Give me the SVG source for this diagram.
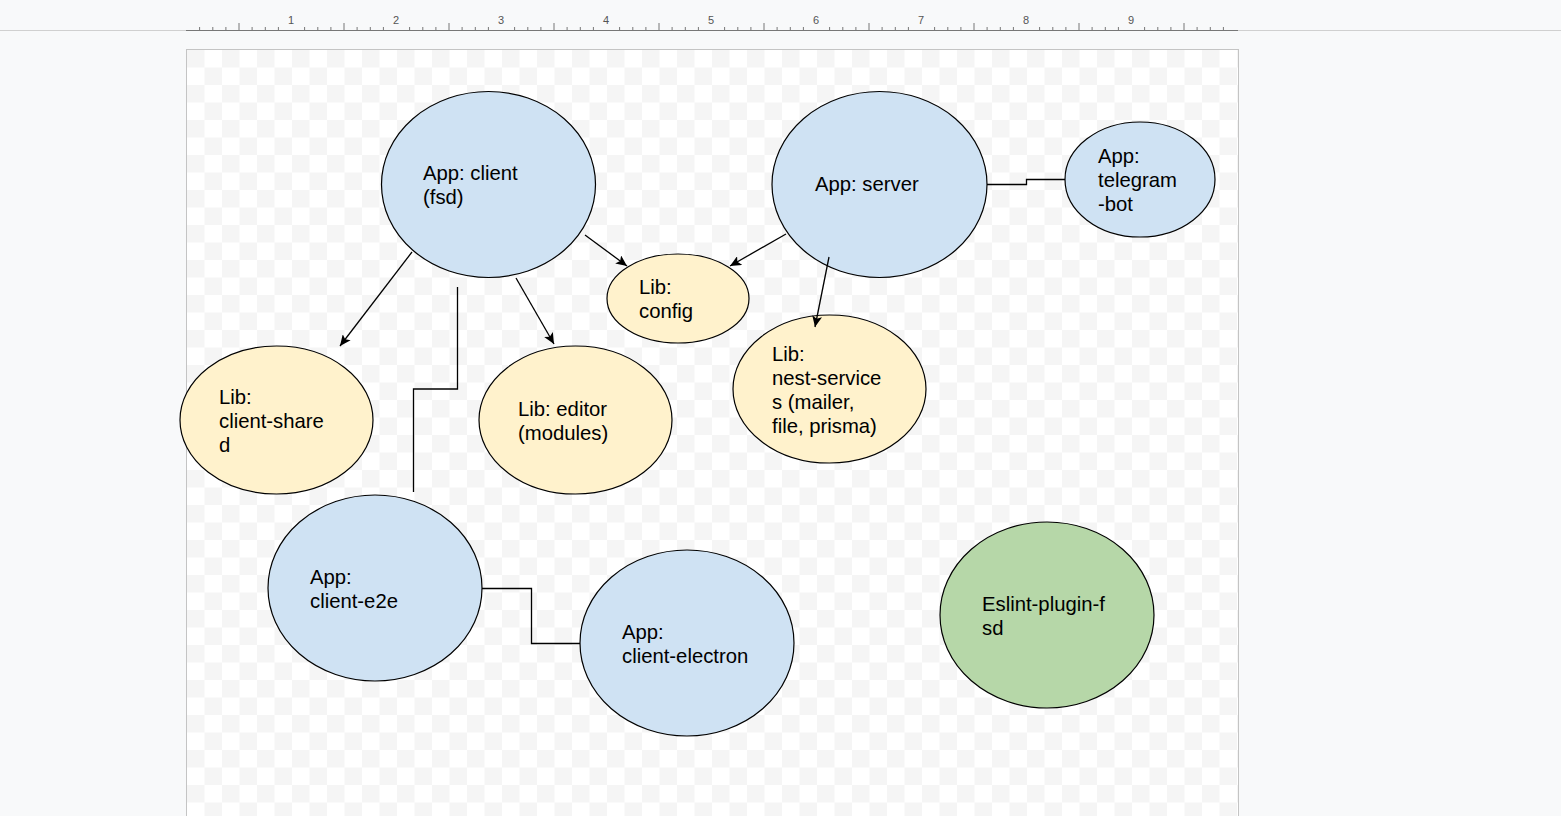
<svg xmlns="http://www.w3.org/2000/svg" width="1561" height="816" viewBox="0 0 1561 816">
<defs>
<pattern id="checker" x="187" y="50" width="35" height="35" patternUnits="userSpaceOnUse">
<rect width="35" height="35" fill="#ffffff"/>
<rect width="17.5" height="17.5" fill="#f5f5f5"/>
<rect x="17.5" y="17.5" width="17.5" height="17.5" fill="#f5f5f5"/>
</pattern>
<marker id="arrow" markerUnits="userSpaceOnUse" markerWidth="12" markerHeight="10" refX="11" refY="5" orient="auto">
<path d="M0,0 L11,5 L0,10 L2.5,5 Z" fill="#000"/>
</marker>
</defs>
<style>
.app{fill:#cfe2f3;stroke:#000;stroke-width:1.2}
.lib{fill:#fff2cc;stroke:#000;stroke-width:1.2}
.plugin{fill:#b6d7a8;stroke:#000;stroke-width:1.2}
.lbl{font-family:"Liberation Sans",Arial,sans-serif;font-size:20.3px;fill:#000}
.edge{fill:none;stroke:#000;stroke-width:1.3}
.arr{marker-end:url(#arrow)}
.tick{stroke:#777;stroke-width:1}
.rnum{font-family:"Liberation Sans",Arial,sans-serif;font-size:11px;fill:#555;text-anchor:middle}
</style>
<rect width="1561" height="816" fill="#f8f9fa"/>
<!-- ruler -->
<g id="ruler">
<line x1="0" y1="30.5" x2="1561" y2="30.5" stroke="#d0d0d0"/>
<line x1="186" y1="30.5" x2="1238" y2="30.5" stroke="#777"/>
<path class="tick" d="M199.6,27V30M212.8,27V30M225.9,27V30M239,23V30M252.1,27V30M265.3,27V30M278.4,27V30
M304.6,27V30M317.8,27V30M330.9,27V30M344,23V30M357.1,27V30M370.3,27V30M383.4,27V30
M409.6,27V30M422.8,27V30M435.9,27V30M449,23V30M462.1,27V30M475.3,27V30M488.4,27V30
M514.6,27V30M527.8,27V30M540.9,27V30M554,23V30M567.1,27V30M580.3,27V30M593.4,27V30
M619.6,27V30M632.8,27V30M645.9,27V30M659,23V30M672.1,27V30M685.3,27V30M698.4,27V30
M724.6,27V30M737.8,27V30M750.9,27V30M764,23V30M777.1,27V30M790.3,27V30M803.4,27V30
M829.6,27V30M842.8,27V30M855.9,27V30M869,23V30M882.1,27V30M895.3,27V30M908.4,27V30
M934.6,27V30M947.8,27V30M960.9,27V30M974,23V30M987.1,27V30M1000.3,27V30M1013.4,27V30
M1039.6,27V30M1052.8,27V30M1065.9,27V30M1079,23V30M1092.1,27V30M1105.3,27V30M1118.4,27V30
M1144.6,27V30M1157.8,27V30M1170.9,27V30M1184,23V30M1197.1,27V30M1210.3,27V30M1223.4,27V30"/>
<text class="rnum" x="291" y="24">1</text>
<text class="rnum" x="396" y="24">2</text>
<text class="rnum" x="501" y="24">3</text>
<text class="rnum" x="606" y="24">4</text>
<text class="rnum" x="711" y="24">5</text>
<text class="rnum" x="816" y="24">6</text>
<text class="rnum" x="921" y="24">7</text>
<text class="rnum" x="1026" y="24">8</text>
<text class="rnum" x="1131" y="24">9</text>
</g>
<!-- canvas -->
<rect x="186.5" y="49.5" width="1052" height="780" fill="url(#checker)" stroke="#c4c4c4"/>
<!-- nodes -->
<g id="app-client">
<ellipse class="app" cx="488.5" cy="184.5" rx="107" ry="93"/>
<text class="lbl" x="423" y="180">App: client</text>
<text class="lbl" x="423" y="204">(fsd)</text>
</g>
<g id="app-server">
<ellipse class="app" cx="879.5" cy="184.5" rx="107.5" ry="93"/>
<text class="lbl" x="815" y="191">App: server</text>
</g>
<g id="app-telegram-bot">
<ellipse class="app" cx="1140" cy="179.5" rx="75" ry="57.5"/>
<text class="lbl" x="1098" y="163">App:</text>
<text class="lbl" x="1098" y="187">telegram</text>
<text class="lbl" x="1098" y="211">-bot</text>
</g>
<g id="lib-config">
<ellipse class="lib" cx="678" cy="298.5" rx="71" ry="44.5"/>
<text class="lbl" x="639" y="294">Lib:</text>
<text class="lbl" x="639" y="318">config</text>
</g>
<g id="lib-client-shared">
<ellipse class="lib" cx="276.5" cy="420" rx="96.5" ry="74"/>
<text class="lbl" x="219" y="404">Lib:</text>
<text class="lbl" x="219" y="428">client-share</text>
<text class="lbl" x="219" y="452">d</text>
</g>
<g id="lib-editor">
<ellipse class="lib" cx="575.5" cy="420" rx="96.5" ry="74"/>
<text class="lbl" x="518" y="416">Lib: editor</text>
<text class="lbl" x="518" y="440">(modules)</text>
</g>
<g id="lib-nest-services">
<ellipse class="lib" cx="829.5" cy="389" rx="96.5" ry="74"/>
<text class="lbl" x="772" y="361">Lib:</text>
<text class="lbl" x="772" y="385">nest-service</text>
<text class="lbl" x="772" y="409">s (mailer,</text>
<text class="lbl" x="772" y="433">file, prisma)</text>
</g>
<g id="app-client-e2e">
<ellipse class="app" cx="375" cy="588" rx="107" ry="93"/>
<text class="lbl" x="310" y="584">App:</text>
<text class="lbl" x="310" y="608">client-e2e</text>
</g>
<g id="app-client-electron">
<ellipse class="app" cx="687" cy="643" rx="107" ry="93"/>
<text class="lbl" x="622" y="639">App:</text>
<text class="lbl" x="622" y="663">client-electron</text>
</g>
<g id="eslint-plugin-fsd">
<ellipse class="plugin" cx="1047" cy="615" rx="107" ry="93"/>
<text class="lbl" x="982" y="611">Eslint-plugin-f</text>
<text class="lbl" x="982" y="635">sd</text>
</g>
<!-- connectors -->
<g id="connectors">
<line class="edge arr" x1="412" y1="252" x2="340" y2="346"/>
<line class="edge arr" x1="516" y1="278" x2="554" y2="344"/>
<line class="edge arr" x1="585" y1="235" x2="627" y2="266"/>
<line class="edge arr" x1="786" y1="234" x2="730" y2="266"/>
<line class="edge arr" x1="829" y1="257" x2="815" y2="327"/>
<polyline class="edge" points="457.5,287 457.5,389 413.5,389 413.5,492"/>
<polyline class="edge" points="987,184.5 1026.5,184.5 1026.5,179.5 1065,179.5"/>
<polyline class="edge" points="482,588.5 531.5,588.5 531.5,643.5 580,643.5"/>
</g>
</svg>
